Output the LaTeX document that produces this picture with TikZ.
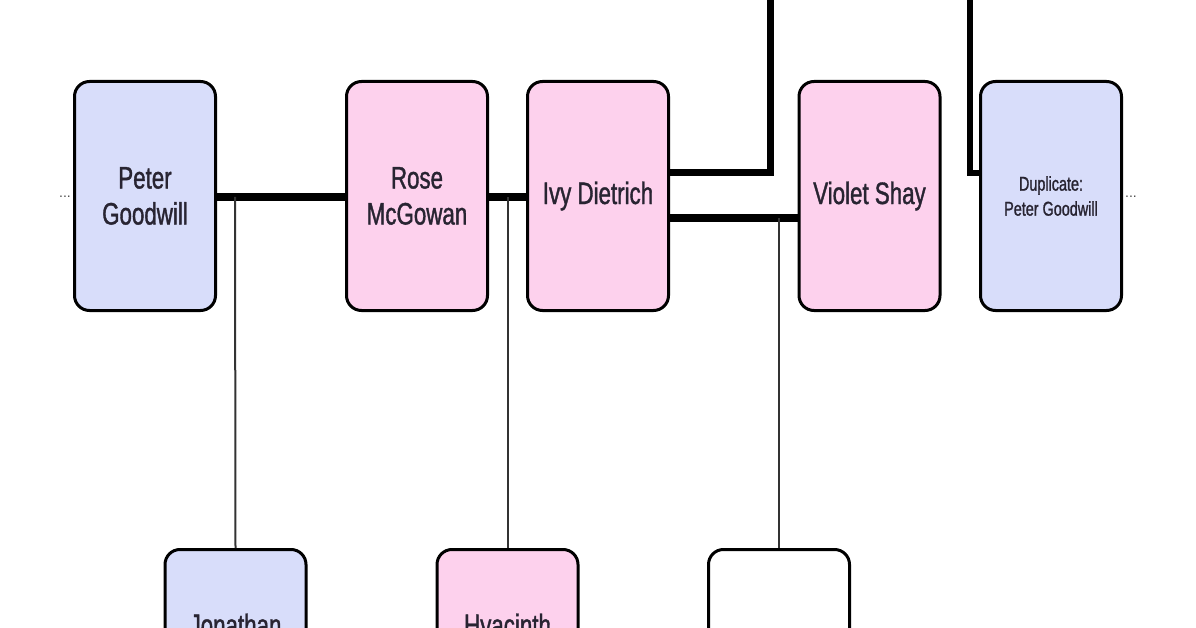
\documentclass[tikz,border=0pt]{standalone}
\usepackage{fontspec}
\setmainfont{Liberation Sans}
\newfontfamily\narrowfont[FakeStretch=0.72,FakeBold=1.2]{Liberation Sans}
\definecolor{boyfill}{RGB}{216,221,250}
\definecolor{girlfill}{RGB}{253,209,237}
\definecolor{txt}{RGB}{40,36,50}
\begin{document}
\begin{tikzpicture}[x=1pt,y=-1pt,
  person/.style={draw=black, line width=3pt, rounded corners=15pt,
    minimum width=141pt, minimum height=229pt, inner sep=0pt, align=center,
    font=\narrowfont\fontsize{31}{36}\selectfont, text=txt},
  male/.style={person, fill=boyfill},
  female/.style={person, fill=girlfill},
  unknown/.style={person, fill=white},
  bigname/.style={font=\narrowfont\fontsize{31}{36}\selectfont, text=txt},
  couple/.style={line width=8pt},
  childline/.style={line width=2pt, draw=black!80},
  dotsstyle/.style={font=\fontsize{14}{14}\selectfont, text=black!70, inner sep=0pt}]
\useasboundingbox (0,0) rectangle (1196,628);
\fill[white] (0,0) rectangle (1196,628);
\clip (0,0) rectangle (1196,628);

% top generation
\node[male]   (peter)  at (145,196) {Peter\\Goodwill};
\node[female] (rose)   at (417,196) {Rose\\McGowan};
\node[female] (ivy)    at (598,196) {Ivy Dietrich};
\node[female] (violet) at (869.5,196) {Violet Shay};
\node[male, font=\narrowfont\fontsize{20}{25}\selectfont] (dup) at (1051,196) {Duplicate:\\Peter Goodwill};

% bottom generation
\node[male]    (jon) at (235.5,664) {};
\node[female]  (hya) at (507.5,664) {};
\node[unknown] (unk) at (779,664) {};
\node[bigname, anchor=base] (jontxt) at (235.5,636) {Jonathan};
\node[bigname, anchor=base] (hyatxt) at (507.5,636) {Hyacinth};

% off-page markers
\node[dotsstyle] (ldots) at (65,197) {...};
\node[dotsstyle] (rdots) at (1131,197) {...};

% coordinates
\coordinate (m1) at (235,197);
\coordinate (m2) at (507.5,197);
\coordinate (m3) at (779,218);
\coordinate (up1) at (770.5,-10);
\coordinate (up2) at (969.5,-10);

% connectors
\draw[couple] ([yshift=-1pt]peter.east) -- ([yshift=-1pt]rose.west);
\draw[couple] ([yshift=-1pt]rose.east) -- ([yshift=-1pt]ivy.west);
\draw[line width=7pt] ([yshift=23pt]ivy.east) -| (up1);
\draw[couple] ([yshift=-22pt]ivy.east) -- ([yshift=-22pt]violet.west);
\draw[line width=6pt] (up2) |- ([yshift=23pt]dup.west);

\draw[childline] (m1) -- (jon.north);
\draw[childline] (m2) -- (hya.north);
\draw[childline] (m3) -- (unk.north);
\end{tikzpicture}
\end{document}
